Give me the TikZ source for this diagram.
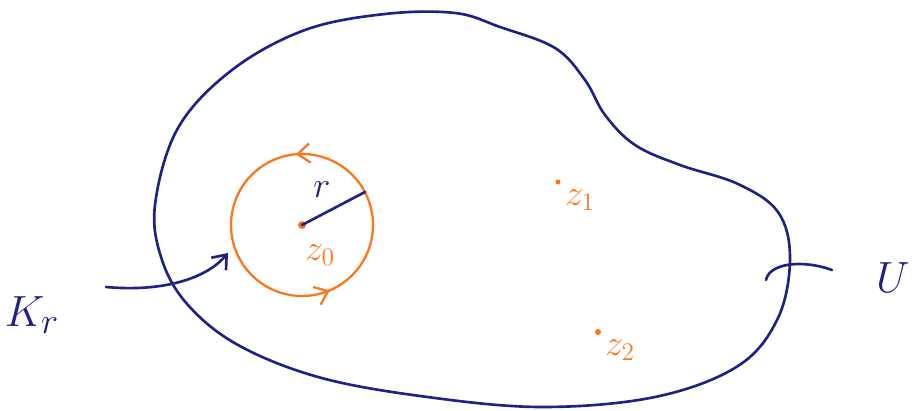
\documentclass[tikz,border=0pt]{standalone}
\usepackage{amsmath,amssymb}
\usepackage{xcolor}
\usepackage{tikz}
\usetikzlibrary{arrows.meta,positioning,calc,decorations.markings}

\definecolor{inkblue}{RGB}{32,32,140}
\definecolor{inkorange}{RGB}{255,118,28}

\tikzset{
  blueline/.style={inkblue,line width=1.5pt,line cap=round,line join=round},
  orangeline/.style={inkorange,line width=1.3pt,line cap=round},
  bluelabel/.style={inkblue,font=\fontsize{30}{32}\selectfont},
  orangelabel/.style={inkorange,font=\fontsize{20}{22}\selectfont},
}

\begin{document}
\begin{tikzpicture}[x=0.02cm,y=-0.02cm,>={Straight Barb[length=7pt,width=11pt]}]
\useasboundingbox (0,0) rectangle (921,411);
% region U
\draw[blueline] plot[smooth cycle,tension=0.6] coordinates {
  (155,205) (178,128) (232,70) (305,30) (385,14) (455,13) (500,27)
  (555,48) (585,80) (605,115) (635,145) (680,165) (738,184) (778,212) (790,258)
  (778,318) (738,366) (655,397) (540,407) (420,396) (318,377) (238,345)
  (188,305) (162,260)};
% circle K_r around z_0
\coordinate (z0) at (302,225);
\draw[orangeline,postaction={decorate},decoration={markings,
  mark=at position 0.186 with {\arrowreversed{>}},
  mark=at position 0.736 with {\arrowreversed{>}}}] (z0) circle[radius=71];
\fill[inkorange] (z0) circle[radius=4];
\coordinate (rim) at (365,192);
\draw[blueline] (z0) -- (rim);
\node[inkblue,font=\fontsize{22}{24}\selectfont] (rlab) at (322,190) {$r$};
\node[orangelabel] (z0lab) at (320,255) {$z_0$};
% points z_1, z_2
\coordinate (z1) at (558,182);
\fill[inkorange] (z1) circle[radius=2.5];
\node[orangelabel] (z1lab) at (580,200) {$z_1$};
\coordinate (z2) at (598,332);
\fill[inkorange] (z2) circle[radius=3];
\node[orangelabel] (z2lab) at (620,350) {$z_2$};
% labels
\node[bluelabel] (Kr) at (32,315) {$K_r$};
\coordinate (Kstart) at (106,287);
\coordinate (Kend) at (228,253);
\draw[blueline,->] (Kstart) .. controls (160,292) and (205,280) .. (Kend);
\node[bluelabel] (U) at (893,278) {$U$};
\coordinate (Ustart) at (766,280);
\coordinate (Uend) at (832,270);
\draw[blueline] (Ustart) .. controls (770,262) and (805,260) .. (Uend);
\end{tikzpicture}
\end{document}
